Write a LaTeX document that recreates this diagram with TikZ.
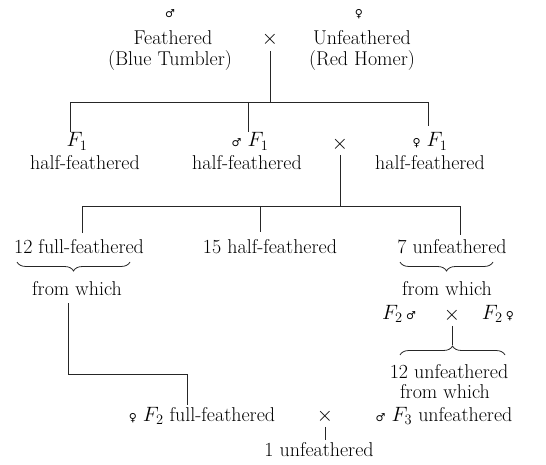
\documentclass[tikz,border=0pt]{standalone}
\usepackage{fontspec}
\newfontfamily\symfont{DejaVu Sans}
\usetikzlibrary{decorations.pathreplacing}
% sex symbols
\newcommand{\gmale}{{\symfont\fontsize{11}{11}\selectfont ♂}}
\newcommand{\gfemale}{{\symfont\fontsize{11}{11}\selectfont ♀}}
\begin{document}
\begin{tikzpicture}[x=1pt,y=-1pt,
  lbl/.style={inner sep=0pt, anchor=base, font=\fontsize{20}{21}\selectfont},
  link/.style={line width=0.8pt, draw=black!85},
  brc/.style={decorate, decoration={brace, amplitude=9pt}, line width=0.8pt, draw=black!85}]
\useasboundingbox (0,0) rectangle (546,465);

% parents
\node[lbl] (pm)  at (170,18) {\gmale};
\node[lbl] (pa)  at (173,45) {Feathered};
\node[lbl] (pa2) at (170,66) {(Blue Tumbler)};
\node[lbl] (pf)  at (359,18) {\gfemale};
\node[lbl] (pb)  at (362,45) {Unfeathered};
\node[lbl] (pb2) at (362,66) {(Red Homer)};
\node[lbl] (x0)  at (270,45) {$\times$};

% F1 generation
\node[lbl] (g1a) at (77,147)  {$F_1$};
\node[lbl] (g1b) at (250,147) {\gmale\ $F_1$};
\node[lbl] (g1c) at (430,147) {\gfemale\ $F_1$};
\node[lbl] (x1)  at (340,150) {$\times$};
\node[lbl] (h1a) at (85,170)  {half-feathered};
\node[lbl] (h1b) at (247,170) {half-feathered};
\node[lbl] (h1c) at (430,170) {half-feathered};

% F2 generation
\node[lbl] (g2a) at (79,253)  {12 full-feathered};
\node[lbl] (g2b) at (270,253) {15 half-feathered};
\node[lbl] (g2c) at (452,253) {7 unfeathered};
\node[lbl] (w2a) at (77,295)  {from which};
\node[lbl] (w2c) at (447,295) {from which};

% F2 x F2 among the unfeathered
\node[lbl] (m2)  at (399,319) {$F_2$\,\gmale};
\node[lbl] (x2)  at (452,320) {$\times$};
\node[lbl] (f2)  at (498,319) {$F_2$\,\gfemale};
\node[lbl] (g3)  at (449,378) {12 unfeathered};
\node[lbl] (w3)  at (445,398) {from which};

% back-cross
\node[lbl] (bf)  at (202,421) {\gfemale\ $F_2$ full-feathered};
\node[lbl] (x3)  at (325,421) {$\times$};
\node[lbl] (bm)  at (444,421) {\gmale\ $F_3$ unfeathered};
\node[lbl] (res) at (319,456) {1 unfeathered};

% junction points
\coordinate (j0)  at (270,102);
\coordinate (b1L) at (70,102);
\coordinate (b1M) at (248,102);
\coordinate (b1R) at (428,102);
\coordinate (t1L) at (70,132);
\coordinate (t1M) at (248,132);
\coordinate (t1R) at (428,126);
\coordinate (j1)  at (340,206);
\coordinate (b2L) at (82,206);
\coordinate (b2M) at (260,206);
\coordinate (b2R) at (460,206);
\coordinate (t2L) at (82,233);
\coordinate (t2M) at (260,232);
\coordinate (t2R) at (460,235);
\coordinate (k1)  at (68,303);
\coordinate (k2)  at (68,374);
\coordinate (k3)  at (187,374);
\coordinate (k4)  at (187,405);
\coordinate (j2)  at (452,345);
\coordinate (j3)  at (325,440);

% connectors
\draw[link] ([yshift=-4pt]x0.south) -- (j0);
\draw[link] (t1L) -- (b1L) -- (b1R) -- (t1R);
\draw[link] (b1M) -- (t1M);
\draw[link] ([yshift=-3pt]x1.south) -- (j1);
\draw[link] (t2L) -- (b2L) -- (b2R) -- (t2R);
\draw[link] (b2M) -- (t2M);
\draw[link] (k1) -- (k2) -- (k3) -- (k4);
\draw[link] ([yshift=-4pt]x2.south) -- (j2);
\draw[link] ([yshift=-4pt]x3.south) -- (j3);

% braces
\draw[brc] (130,262) -- (17,262);
\draw[brc] (493,262) -- (400,262);
\draw[brc] (400,355) -- (505,355);
\end{tikzpicture}
\end{document}
